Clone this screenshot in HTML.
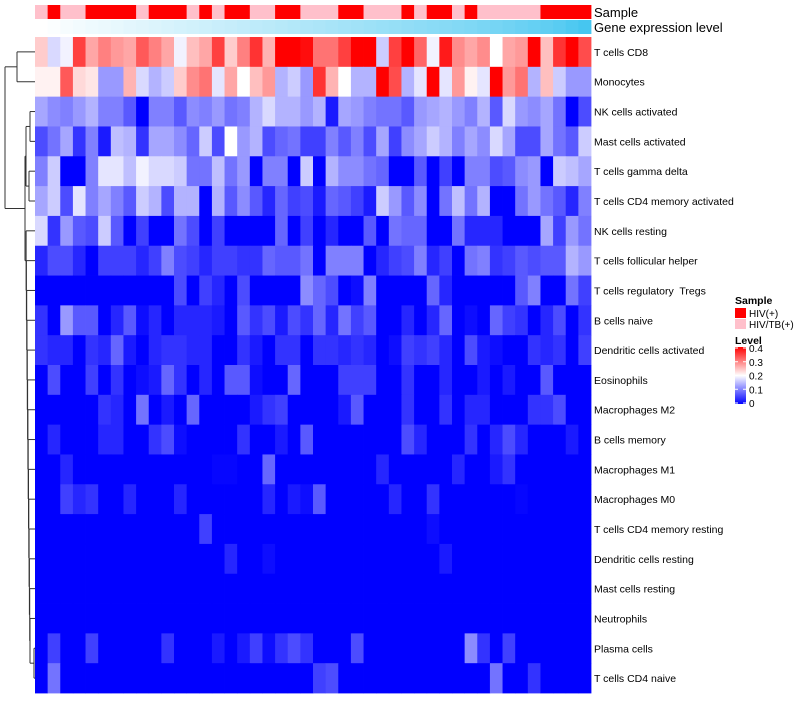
<!DOCTYPE html>
<html><head><meta charset="utf-8">
<style>
body{margin:0;background:#fff;width:800px;height:700px;overflow:hidden;font-family:"Liberation Sans",Arial,sans-serif;}
svg text{font-family:"Liberation Sans",Arial,sans-serif;white-space:pre;}
</style></head>
<body>
<svg id="chart" width="800" height="700" xmlns="http://www.w3.org/2000/svg"></svg>
<script>
const rowLabels=["T cells CD8","Monocytes","NK cells activated","Mast cells activated","T cells gamma delta","T cells CD4 memory activated","NK cells resting","T cells follicular helper","T cells regulatory  Tregs","B cells naive","Dendritic cells activated","Eosinophils","Macrophages M2","B cells memory","Macrophages M1","Macrophages M0","T cells CD4 memory resting","Dendritic cells resting","Mast cells resting","Neutrophils","Plasma cells","T cells CD4 naive"];
const sampleGroup=[0,1,0,0,1,1,1,1,0,1,1,1,0,1,0,1,1,0,0,1,1,0,0,0,1,1,0,0,0,1,0,1,1,0,1,0,0,0,0,0,1,1,1,1];
const geneLevel=[0,0.02,0.05,0.07,0.09,0.11,0.13,0.15,0.17,0.19,0.21,0.23,0.25,0.27,0.29,0.31,0.33,0.35,0.37,0.39,0.41,0.43,0.45,0.47,0.49,0.51,0.53,0.55,0.57,0.59,0.61,0.63,0.65,0.67,0.69,0.72,0.74,0.77,0.8,0.83,0.86,0.9,0.95,1];
const levelTicks=[0,0.1,0.2,0.3,0.4];
const z=[];
z[0]=[0.24,0.17,0.19,0.35,0.27,0.3,0.28,0.27,0.33,0.3,0.27,0.19,0.25,0.27,0.35,0.24,0.3,0.36,0.26,0.4,0.4,0.39,0.31,0.31,0.35,0.4,0.4,0.16,0.35,0.4,0.32,0.19,0.38,0.29,0.27,0.29,0.2,0.27,0.28,0.4,0.25,0.36,0.4,0.34];
z[1]=[0.21,0.21,0.33,0.23,0.22,0.12,0.12,0.26,0.17,0.14,0.16,0.24,0.29,0.31,0.18,0.27,0.2,0.25,0.28,0.14,0.16,0.12,0.36,0.26,0.2,0.14,0.14,0.4,0.34,0.14,0.18,0.4,0.18,0.28,0.21,0.18,0.4,0.28,0.31,0.14,0.25,0.16,0.12,0.12];
z[2]=[0.13,0.11,0.10,0.12,0.14,0.10,0.10,0.07,0,0.10,0.10,0.07,0.11,0.10,0.12,0.09,0.10,0.14,0.17,0.14,0.14,0.12,0.14,0.02,0.13,0.12,0.10,0.09,0.09,0.07,0.12,0.13,0.14,0.12,0.10,0.14,0.07,0.17,0.12,0.11,0.13,0.09,0,0.06];
z[3]=[0.06,0.09,0.13,0.04,0.1,0.02,0.15,0.14,0.04,0.13,0.13,0.11,0.08,0.16,0.06,0.2,0.12,0.14,0.06,0.08,0.09,0.05,0.05,0.10,0.07,0.10,0.06,0.13,0.05,0.11,0.13,0.16,0.14,0.10,0.13,0.11,0.17,0.13,0.06,0.06,0.13,0.09,0.07,0.16];
z[4]=[0.1,0.16,0,0,0.1,0.18,0.18,0.15,0.19,0.17,0.17,0.16,0.09,0.09,0.15,0.09,0.12,0,0.1,0.1,0,0.16,0,0.14,0.11,0.11,0.09,0.08,0,0,0.07,0,0.05,0,0.1,0.1,0.06,0.07,0.11,0.12,0,0.16,0.15,0.13];
z[5]=[0.13,0.16,0.06,0.18,0.1,0.13,0.1,0.07,0.16,0.14,0.06,0.14,0.14,0,0.14,0.07,0.11,0.07,0.03,0.08,0.05,0.06,0.02,0.08,0.07,0.05,0.02,0.16,0.12,0.07,0.11,0,0.09,0.15,0.09,0.14,0,0,0.09,0.12,0.09,0.07,0.03,0.1];
z[6]=[0.17,0.04,0.12,0.07,0.06,0.16,0.07,0,0.05,0,0,0.09,0.06,0,0.05,0,0,0,0,0.08,0,0.05,0,0.03,0,0,0.07,0,0.09,0.08,0.08,0,0,0.09,0.03,0.03,0.03,0,0,0,0.13,0.05,0.12,0.09];
z[7]=[0.03,0.06,0.06,0.03,0,0.05,0.05,0.05,0.03,0.05,0.1,0.06,0.05,0.03,0.05,0.05,0.04,0.04,0.08,0.07,0.07,0.09,0,0.1,0.1,0.1,0,0.03,0.05,0.06,0.1,0.03,0.05,0,0.09,0.1,0.04,0.05,0.07,0.06,0.07,0.07,0.14,0.12];
z[8]=[0,0,0,0,0,0,0,0,0,0,0,0.06,0,0.05,0.03,0,0.06,0,0,0,0,0.11,0.08,0.06,0,0.01,0.1,0,0,0,0,0.08,0.03,0,0,0,0,0,0.07,0.1,0,0,0.09,0.05];
z[9]=[0.04,0,0.12,0.07,0.07,0,0.03,0.07,0.01,0.03,0,0.03,0.03,0.03,0.02,0,0.07,0.04,0.06,0.02,0.06,0.04,0.08,0.03,0.09,0.05,0.07,0,0,0.03,0,0.03,0.08,0,0.01,0,0.08,0.05,0.04,0,0.03,0.06,0,0.04];
z[10]=[0.04,0.03,0.03,0,0.04,0.03,0.08,0.02,0,0.03,0.04,0.04,0.03,0.03,0,0,0.04,0.02,0,0.04,0.04,0,0.04,0.04,0.03,0.04,0.03,0,0.01,0.05,0.04,0.05,0.03,0,0.06,0.02,0.01,0,0,0.04,0.03,0.04,0,0.05];
z[11]=[0,0.06,0,0,0.05,0,0.04,0,0.01,0.02,0.08,0.04,0,0.03,0,0.07,0.07,0.01,0,0,0.08,0,0,0,0.05,0.05,0.05,0,0,0.04,0,0,0.03,0,0,0.02,0,0.02,0,0,0.07,0,0,0];
z[12]=[0,0,0,0,0,0.04,0.03,0,0.09,0,0.02,0,0.08,0,0,0,0,0.02,0.04,0.05,0,0,0,0,0.02,0.07,0,0,0,0.04,0,0,0.04,0,0.03,0.03,0,0,0,0.04,0.04,0.06,0,0];
z[13]=[0,0.03,0,0,0,0.03,0.03,0,0,0.04,0.06,0.01,0,0,0,0,0.04,0,0,0.02,0,0.07,0,0,0,0,0,0,0,0.06,0.03,0,0,0,0.04,0,0.03,0.06,0.03,0,0,0,0.02,0];
z[14]=[0,0,0.03,0,0,0,0,0,0,0,0,0,0,0,0.005,0.005,0,0,0.08,0,0,0,0,0,0,0,0,0.03,0,0,0,0,0,0.03,0,0,0.02,0.04,0,0,0,0,0,0];
z[15]=[0,0,0.05,0.03,0.04,0,0,0.03,0,0,0,0.03,0,0,0,0,0,0,0.03,0,0.02,0.01,0.07,0,0,0,0,0,0.03,0,0,0.04,0,0,0,0,0,0,0.005,0,0,0,0,0];
z[16]=[0,0,0,0,0,0,0,0,0,0,0,0,0,0.05,0,0,0,0,0,0,0,0,0,0,0,0,0,0,0,0,0,0.01,0,0,0,0,0,0,0,0,0,0,0,0];
z[17]=[0,0,0,0,0,0,0,0,0,0,0,0,0,0,0,0.03,0,0,0.01,0,0,0,0,0,0,0,0,0,0,0,0,0,0.02,0,0,0,0,0,0,0,0,0,0,0];
z[18]=[0,0,0,0,0,0,0,0,0,0,0,0,0,0,0,0,0,0,0,0,0,0,0,0,0,0,0,0,0,0,0,0,0,0,0,0,0,0,0,0,0,0,0,0];
z[19]=[0,0,0,0,0,0,0,0,0,0,0,0,0,0,0,0,0,0,0,0,0,0,0,0,0,0,0,0,0,0,0,0,0,0,0,0,0,0,0,0,0,0,0,0];
z[20]=[0,0.05,0,0,0.05,0,0,0,0,0,0.04,0,0,0,0.02,0,0.02,0.05,0.01,0.04,0.06,0.04,0,0,0,0.06,0,0,0,0,0,0,0,0,0.11,0.04,0,0.05,0,0,0,0,0,0];
z[21]=[0,0.09,0,0,0,0,0,0,0,0,0,0,0,0,0,0,0,0,0,0,0,0,0.05,0.06,0,0,0,0,0,0,0,0,0,0,0,0,0.09,0,0,0.04,0,0,0,0];

const NS="http://www.w3.org/2000/svg";
const svg=document.getElementById('chart');
const X0=35,X1=591,Y0=37,Y1=693;
const nC=44,nR=22;
const cw=(X1-X0)/nC, rh=(Y1-Y0)/nR;
function xPos(c){return X0+c*cw;}
function yPos(r){return Y0+r*rh;}
function color(v){
  const t=Math.max(0,Math.min(0.4,v));
  if(t<=0.2){const k=Math.round(255*t/0.2);return `rgb(${k},${k},255)`;}
  const k=Math.round(255*(0.4-t)/0.2);return `rgb(255,${k},${k})`;
}
function geneColor(g){
  const r=Math.round(255+(70-255)*g),gg=Math.round(255+(198-255)*g),b=Math.round(255+(240-255)*g);
  return `rgb(${r},${gg},${b})`;
}
function mk(tag,attrs){const e=document.createElementNS(NS,tag);for(const k in attrs)e.setAttribute(k,attrs[k]);svg.appendChild(e);return e;}

for(let c=0;c<nC;c++){
  const e=mk('rect',{x:xPos(c),y:5,width:cw+0.4,height:14,fill:sampleGroup[c]?'#ff0000':'#ffc0cb'});
  
  
  const g=mk('rect',{x:xPos(c),y:20,width:cw+0.4,height:14,fill:geneColor(geneLevel[c])});
  
  
}
let t=mk('text',{x:594,y:17,'font-size':13,fill:'#000'});t.textContent='Sample';


t=mk('text',{x:594,y:32,'font-size':13,fill:'#000'});t.textContent='Gene expression level';



for(let r=0;r<nR;r++){
  for(let c=0;c<nC;c++){
    const e=mk('rect',{x:xPos(c),y:yPos(r),width:cw+0.4,height:rh+0.4,fill:color(z[r][c])});
    
    
  }
  const l=mk('text',{x:594,y:yPos(r)+rh/2+4,'font-size':10.5,fill:'#000'});
  l.setAttributeNS('http://www.w3.org/XML/1998/namespace','xml:space','preserve');
  l.textContent=rowLabels[r];
  
  
}

function cy(r){return yPos(r)+rh/2;}
function seg(x1,y1,x2,y2){const e=mk('line',{x1:x1,y1:y1,x2:x2,y2:y2,stroke:'#333','stroke-width':1});
  
  }
function node(x,ya,xa,yb,xb){seg(x,ya,x,yb);seg(x,ya,xa,ya);seg(x,yb,xb,yb);return (ya+yb)/2;}
const A=node(17,cy(0),35,cy(1),35);
const n23=node(30,cy(2),35,cy(3),35);
const n45=node(29,cy(4),35,cy(5),35);
const B=node(26,n23,30,n45,29);
let prevX=35;
const xs=[34,34,33.5,34,33,33.5,33,32.5,33,32.5,32,32,31.5,31,30.5];
let m=node(34,cy(20),35,cy(21),35);prevX=34;
for(let r=19;r>=6;r--){const nx=xs[r-6]-1;m=node(Math.min(nx,prevX-0.3),cy(r),35,m,prevX);prevX=Math.min(nx,prevX-0.3);}
const C=node(25,B,26,m,prevX);
node(5,A,17,C,25);

t=mk('text',{x:735,y:304,'font-size':10.5,'font-weight':'bold',fill:'#000'});t.textContent='Sample';

let r1=mk('rect',{x:735,y:308,width:11,height:10,fill:'#ff0000'});

t=mk('text',{x:749,y:317,'font-size':10,fill:'#000'});t.textContent='HIV(+)';

r1=mk('rect',{x:735,y:319,width:11,height:10,fill:'#ffc0cb'});

t=mk('text',{x:749,y:328,'font-size':10,fill:'#000'});t.textContent='HIV/TB(+)';

t=mk('text',{x:735,y:344,'font-size':10.5,'font-weight':'bold',fill:'#000'});t.textContent='Level';

const defs=mk('defs',{});
const lg=document.createElementNS(NS,'linearGradient');lg.setAttribute('id','lv');lg.setAttribute('x1','0');lg.setAttribute('y1','1');lg.setAttribute('x2','0');lg.setAttribute('y2','0');
[['0','#0000ff'],['0.5','#ffffff'],['1','#ff0000']].forEach(s=>{const st=document.createElementNS(NS,'stop');st.setAttribute('offset',s[0]);st.setAttribute('stop-color',s[1]);lg.appendChild(st);});
defs.appendChild(lg);
const barTop=347,barBot=404;
r1=mk('rect',{x:735,y:barTop,width:11,height:barBot-barTop,fill:'url(#lv)'});

levelTicks.forEach(v=>{
  const y=barBot-(v/0.4)*(barBot-barTop-2)-1;
  const ln=mk('line',{x1:735,y1:y,x2:738,y2:y,stroke:'#fff','stroke-width':1});
  
  const ln2=mk('line',{x1:743,y1:y,x2:746,y2:y,stroke:'#fff','stroke-width':1});
  
  const tx=mk('text',{x:749,y:y+4,'font-size':10,fill:'#000'});tx.textContent=String(v);
  
});
</script>
</body></html>
